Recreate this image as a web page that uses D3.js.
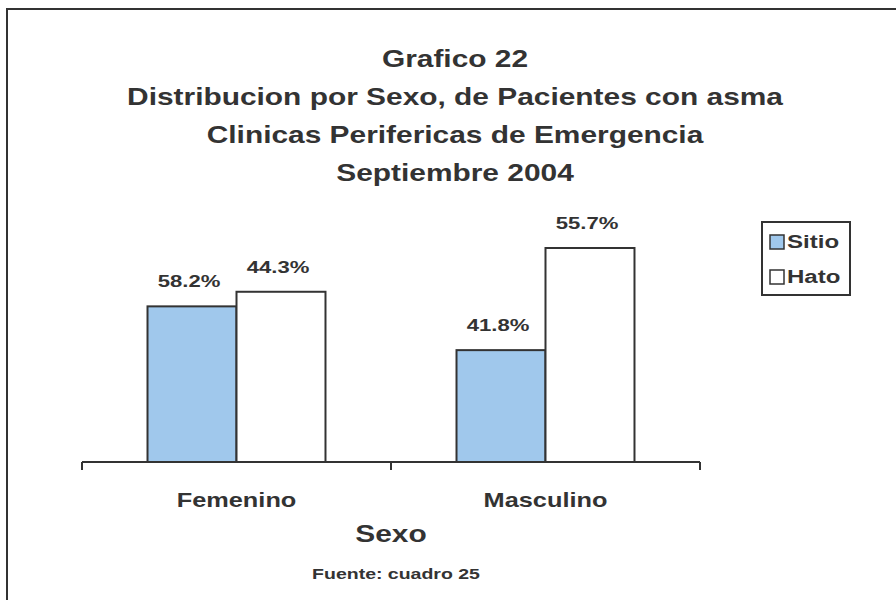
<!DOCTYPE html>
<html>
<head>
<meta charset="utf-8">
<script src="https://cdn.jsdelivr.net/npm/d3@7"></script>
<style>
  body { margin: 0; background: #fff; }
  text { font-family: "Liberation Sans", Arial, sans-serif; font-weight: bold; fill: #333; }
</style>
</head>
<body>
<div id="chart"></div>
<script>
// data: bar heights look like patient counts,
// the labels are the % inside each series
var categories = ["Femenino", "Masculino"];
var seriesNames = ["Sitio", "Hato"];
var sitioCounts = [32, 23];
var hatoCounts = [35, 44];
var sitioLabels = ["58.2%", "41.8%"];
var hatoLabels = ["44.3%", "55.7%"];
var titleLines = ["Grafico 22", "Distribucion por Sexo, de Pacientes con asma",
                  "Clinicas Perifericas de Emergencia", "Septiembre 2004"];
var xTitle = "Sexo";
var source = "Fuente: cuadro 25";

var width = 896, height = 600;
var stretch = 1.3; // scanned original is wider than tall

var svg = d3.select("#chart").append("svg")
  .attr("width", width)
  .attr("height", height);

// outer frame
svg.append("rect")
  .attr("x", 7).attr("y", 9)
  .attr("width", 920).attr("height", 620)
  .attr("fill", "none")
  .attr("stroke", "#333")
  .attr("stroke-width", 2);

function label(x, y, txt, size) {
  return svg.append("text")
    .attr("transform", "translate(" + x + "," + y + ") scale(" + stretch + ",1)")
    .attr("text-anchor", "middle")
    .style("font-size", size + "px")
    .text(txt);
}

// title
titleLines.forEach(function(t, i) {
  label(455, 67 + i * 38, t, 23);
});

var x0 = d3.scaleBand()
  .domain(categories)
  .range([82, 700])
  .paddingInner(0.424)
  .paddingOuter(0.212);

var x1 = d3.scaleBand()
  .domain(seriesNames)
  .range([0, x0.bandwidth()]);

var y = d3.scaleLinear()
  .domain([0, 44])
  .range([462, 248]);

var colors = { "Sitio": "#a0c8ec", "Hato": "#ffffff" };

var rows = categories.map(function(c, i) {
  return {
    cat: c,
    vals: [
      { s: "Sitio", v: sitioCounts[i], lab: sitioLabels[i] },
      { s: "Hato", v: hatoCounts[i], lab: hatoLabels[i] }
    ]
  };
});

var groups = svg.selectAll(".grp")
  .data(rows)
  .enter()
  .append("g")
  .attr("class", "grp")
  .attr("transform", function(d) { return "translate(" + x0(d.cat) + ",0)"; });

groups.selectAll("rect")
  .data(function(d) { return d.vals; })
  .enter()
  .append("rect")
  .attr("x", function(d) { return x1(d.s); })
  .attr("y", function(d) { return y(d.v); })
  .attr("width", x1.bandwidth())
  .attr("height", function(d) { return y(0) - y(d.v); })
  .attr("fill", function(d) { return colors[d.s]; })
  .attr("stroke", "#333")
  .attr("stroke-width", 2);

// value labels
rows.forEach(function(r) {
  r.vals.forEach(function(d) {
    label(x0(r.cat) + x1(d.s) + x1.bandwidth() / 2 - 3, y(d.v) - 19, d.lab, 17);
  });
});

// x axis: baseline plus ticks on category boundaries
var axis = svg.append("g").attr("transform", "translate(0," + y(0) + ")");
axis.append("line")
  .attr("x1", x0.range()[0]).attr("x2", x0.range()[1])
  .attr("stroke", "#333").attr("stroke-width", 2);
d3.range(categories.length + 1).forEach(function(i) {
  var bx = x0.range()[0] + i * x0.step();
  axis.append("line")
    .attr("x1", bx).attr("x2", bx)
    .attr("y1", 0).attr("y2", 8)
    .attr("stroke", "#333").attr("stroke-width", 2);
});

categories.forEach(function(c) {
  label(x0(c) + x0.bandwidth() / 2, 507, c, 19.5);
});

label(391, 542, xTitle, 23);
label(396, 579, source, 15);

// legend
var leg = svg.append("g");
leg.append("rect")
  .attr("x", 762).attr("y", 222)
  .attr("width", 88).attr("height", 73)
  .attr("fill", "#fff")
  .attr("stroke", "#333")
  .attr("stroke-width", 2);
seriesNames.forEach(function(s, i) {
  var ly = 235 + i * 35;
  leg.append("rect")
    .attr("x", 770).attr("y", ly)
    .attr("width", 14).attr("height", 14)
    .attr("fill", colors[s])
    .attr("stroke", "#333")
    .attr("stroke-width", 1.5);
  leg.append("text")
    .attr("transform", "translate(787," + (ly + 13) + ") scale(" + stretch + ",1)")
    .style("font-size", "18.5px")
    .text(s);
});
</script>
</body>
</html>
